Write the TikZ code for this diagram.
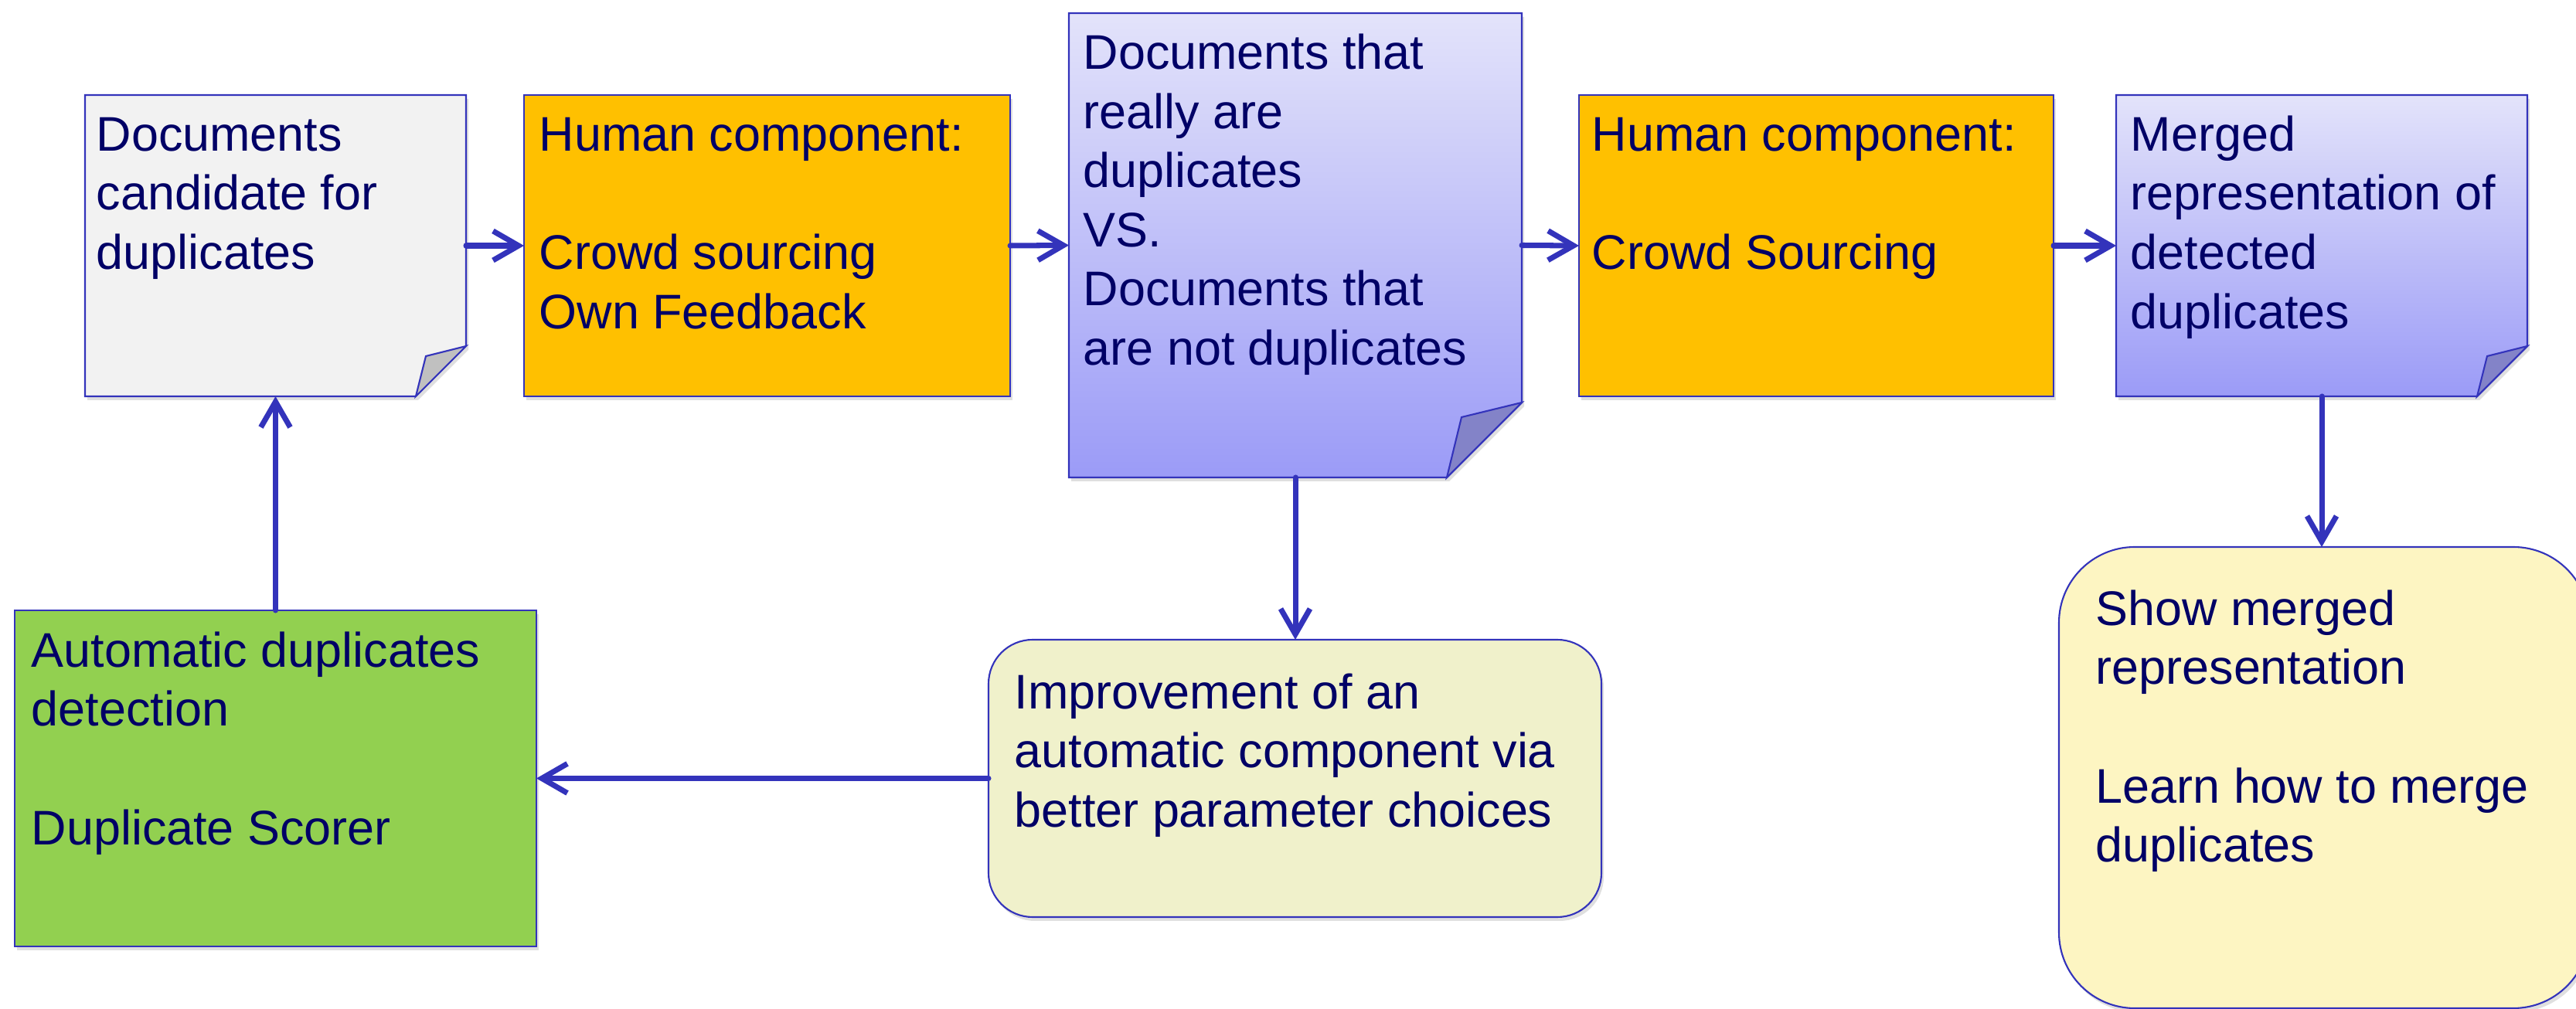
\documentclass[tikz,border=0pt]{standalone}
\usepackage{fontspec}
\setmainfont{Liberation Sans}
\usetikzlibrary{arrows.meta,shadows,calc}

\definecolor{linkblue}{RGB}{51,51,187}
\definecolor{inknavy}{RGB}{0,0,102}
\definecolor{papergray}{RGB}{242,242,242}
\definecolor{foldgray}{RGB}{192,192,192}
\definecolor{humanorange}{RGB}{255,192,0}
\definecolor{notetop}{RGB}{227,227,250}
\definecolor{notebottom}{RGB}{155,155,247}
\definecolor{foldblue}{RGB}{131,131,200}
\definecolor{autogreen}{RGB}{146,208,80}
\definecolor{tipyellow}{RGB}{240,241,203}
\definecolor{showyellow}{RGB}{253,245,194}

\begin{document}
\begin{tikzpicture}[font=\fontsize{17.9}{21.8}\selectfont]
    % Set up styles for boxes, texts and arrows
    \tikzstyle{frame} = [draw=linkblue, line width=0.6pt]
    \tikzstyle{shade} = [drop shadow={shadow xshift=0.03cm, shadow yshift=-0.05cm, opacity=0.25}]
    \tikzstyle{slot} = [rectangle, inner sep=0pt, outer sep=0pt]
    % (base of a text = baseline of its last line)
    \tikzstyle{words} = [anchor=base west, align=left, inner sep=0pt, text=inknavy]
    \tikzstyle{flow} = [-{Straight Barb[length=3.3mm, width=3.8mm]}, line width=2pt, draw=linkblue, line cap=round]

    \useasboundingbox (0,0) rectangle (33.33,-13.06);

    % Candidate documents (note with folded corner)
    \node[slot, minimum width=4.93cm, minimum height=3.90cm] (cand) at (3.565,-3.18) {};
    \draw[frame, shade, fill=papergray] (cand.north west) -- (cand.north east)
        -- ([yshift=0.65cm]cand.south east) -- ([xshift=-0.65cm]cand.south east)
        -- (cand.south west) -- cycle;
    \draw[frame, fill=foldgray] ([yshift=0.65cm]cand.south east)
        -- ([shift={(-0.52,0.52)}]cand.south east) -- ([xshift=-0.65cm]cand.south east) -- cycle;
    \node[words] (cand text) at ([shift={(0.14,-2.254)}]cand.north west)
        {Documents\\candidate for\\duplicates};

    % First human component
    \node[slot, frame, shade, fill=humanorange, minimum width=6.29cm, minimum height=3.90cm]
        (human1) at (9.925,-3.18) {};
    \node[words] (human1 text) at ([shift={(0.19,-3.021)}]human1.north west)
        {Human component:\\[21.8pt]Crowd sourcing\\Own Feedback};

    % Split into duplicates and non duplicates
    \node[slot, minimum width=5.86cm, minimum height=6.01cm] (split) at (16.76,-3.175) {};
    \draw[frame, shade, top color=notetop, bottom color=notebottom] (split.north west) -- (split.north east)
        -- ([yshift=0.97cm]split.south east) -- ([xshift=-0.97cm]split.south east)
        -- (split.south west) -- cycle;
    \draw[frame, fill=foldblue] ([yshift=0.97cm]split.south east)
        -- ([shift={(-0.78,0.78)}]split.south east) -- ([xshift=-0.97cm]split.south east) -- cycle;
    \node[words] (split text) at ([shift={(0.18,-4.555)}]split.north west)
        {Documents that\\really are\\duplicates\\VS.\\Documents that\\are not duplicates};

    % Second human component
    \node[slot, frame, shade, fill=humanorange, minimum width=6.14cm, minimum height=3.90cm]
        (human2) at (23.50,-3.18) {};
    \node[words] (human2 text) at ([shift={(0.16,-2.254)}]human2.north west)
        {Human component:\\[21.8pt]Crowd Sourcing};

    % Merged representation
    \node[slot, minimum width=5.32cm, minimum height=3.90cm] (merged) at (30.04,-3.18) {};
    \draw[frame, shade, top color=notetop, bottom color=notebottom] (merged.north west) -- (merged.north east)
        -- ([yshift=0.65cm]merged.south east) -- ([xshift=-0.65cm]merged.south east)
        -- (merged.south west) -- cycle;
    \draw[frame, fill=foldblue] ([yshift=0.65cm]merged.south east)
        -- ([shift={(-0.52,0.52)}]merged.south east) -- ([xshift=-0.65cm]merged.south east) -- cycle;
    \node[words] (merged text) at ([shift={(0.18,-3.021)}]merged.north west)
        {Merged\\representation of\\detected\\duplicates};

    % Showing and learning the merge
    \node[slot, frame, shade, fill=showyellow, rounded corners=0.98cm,
        minimum width=6.86cm, minimum height=5.97cm] (show) at (30.07,-10.065) {};
    \node[words] (show text) at ([shift={(0.47,-4.078)}]show.north west)
        {Show merged\\representation\\[21.8pt]Learn how to merge\\duplicates};

    % Improvement of the automatic part
    \node[slot, frame, shade, fill=tipyellow, rounded corners=0.57cm,
        minimum width=7.93cm, minimum height=3.59cm] (improve) at (16.755,-10.075) {};
    \node[words] (improve text) at ([shift={(0.33,-2.424)}]improve.north west)
        {Improvement of an\\automatic component via\\better parameter choices};

    % Automatic detection
    \node[slot, frame, shade, fill=autogreen, minimum width=6.75cm, minimum height=4.35cm]
        (auto) at (3.565,-10.075) {};
    \node[words] (auto text) at ([shift={(0.21,-3.031)}]auto.north west)
        {Automatic duplicates\\detection\\[21.8pt]Duplicate Scorer};

    % Arrows between the steps
    \draw[flow] (cand.east) -- (human1.west);
    \draw[flow] (human1.east) -- (split.west);
    \draw[flow] (split.east) -- (human2.west);
    \draw[flow] (human2.east) -- (merged.west);
    \draw[flow] (merged.south) -- (merged.south |- show.north);
    \draw[flow] (split.south) -- (split.south |- improve.north);
    \draw[flow] (improve.west) -- (auto.east);
    \draw[flow] (auto.north) -- (cand.south);

\end{tikzpicture}
\end{document}
